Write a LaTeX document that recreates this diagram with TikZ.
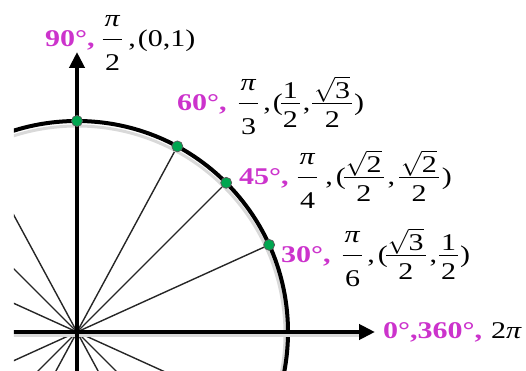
\documentclass[tikz,border=0pt]{standalone}
\usepackage{fontspec}
\setmainfont{Liberation Serif}[FakeStretch=1.25]
\usetikzlibrary{arrows.meta}
\definecolor{degpink}{RGB}{204,51,204}
\definecolor{dotgreen}{RGB}{0,166,80}
% fraction: numerator, denominator, gap above bar, gap below bar
\newcommand{\fracbox}[4]{\raise\dimexpr7.5pt+#3\relax\vtop{\offinterlineskip
  \halign{\hfil\kern2pt##\kern2pt\hfil\cr\raisebox{0pt}[\height][0pt]{#1}\cr
  \noalign{\kern#3\hrule height1pt\kern#4}#2\cr}}}
\newcommand{\piover}[1]{\fracbox{\textit{π}}{#1}{13pt}{14pt}}
\newcommand{\numfrac}[2]{\fracbox{#1}{#2}{5pt}{7pt}}
\newcommand{\degs}[1]{\textcolor{degpink}{\bfseries #1}}

\begin{document}
\begin{tikzpicture}[x=1pt, y=1pt, font=\fontsize{24}{28}\selectfont,
  axis/.style={line width=4pt, -{Triangle[length=16pt,width=15pt]}},
  ray/.style={line width=1.4pt, black!85},
  shade/.style={black!15, line width=3pt},
  dot/.style={circle, fill=dotgreen, draw=black!65, line width=0.7pt, inner sep=0pt, minimum size=11pt},
  deg/.style={anchor=base west, inner sep=0pt}]
\useasboundingbox (-77,-39) rectangle (449,332);
\coordinate (O) at (0,0);
\coordinate (xstart) at (-77,0);
\coordinate (xend) at (298,0);
\coordinate (ystart) at (0,-39);
\coordinate (yend) at (0,280);
\begin{scope}
\clip (-63,-39) rectangle (449,332);
\foreach \a in {24.4,45,61.6,118.4,135,155.6}
  \draw[ray] (\a+180:211) -- (\a:211);
\draw[shade] ([yshift=-2pt]O) circle[radius=208];
\draw[line width=4pt] (O) circle[radius=211];
\draw[shade] ([yshift=-4pt]xstart) -- ++(365,0);
\draw[axis] (xstart) -- (xend);
\draw[axis] (ystart) -- (yend);
\end{scope}
\foreach \a/\n in {90/p90,61.6/p60,45/p45,24.4/p30}
  \node[dot] (\n) at (\a:211) {};
% labels
\node[deg] (l90) at (-32,285) {\degs{90°,}\hspace{8pt}\piover{2}\hspace{6pt},\hspace{2pt}(0,1)};
\node[deg] (l60) at (100,221) {\degs{60°,}\hspace{12pt}\piover{3}\hspace{5pt},\hspace{2pt}(\hspace{-2pt}\numfrac{1}{2}\hspace{3pt},\hspace{2pt}\numfrac{$\sqrt{\hbox{3}}$}{2}\hspace{2pt})};
\node[deg] (l45) at (162,147) {\degs{45°,}\hspace{9pt}\piover{4}\hspace{8pt},\hspace{3pt}(\hspace{-2pt}\numfrac{$\sqrt{\hbox{2}}$}{2}\hspace{4pt},\hspace{4pt}\numfrac{$\sqrt{\hbox{2}}$}{2}\hspace{3pt})};
\node[deg] (l30) at (204,69) {\degs{30°,}\hspace{12pt}\piover{6}\hspace{5pt},\hspace{3pt}(\hspace{-2pt}\numfrac{$\sqrt{\hbox{3}}$}{2}\hspace{4pt},\hspace{2pt}\numfrac{1}{2}\hspace{2pt})};
\node[deg] (l0) at (306,-7) {\degs{0°,360°,}\hspace{9pt}2\textit{π}};
\end{tikzpicture}
\end{document}
